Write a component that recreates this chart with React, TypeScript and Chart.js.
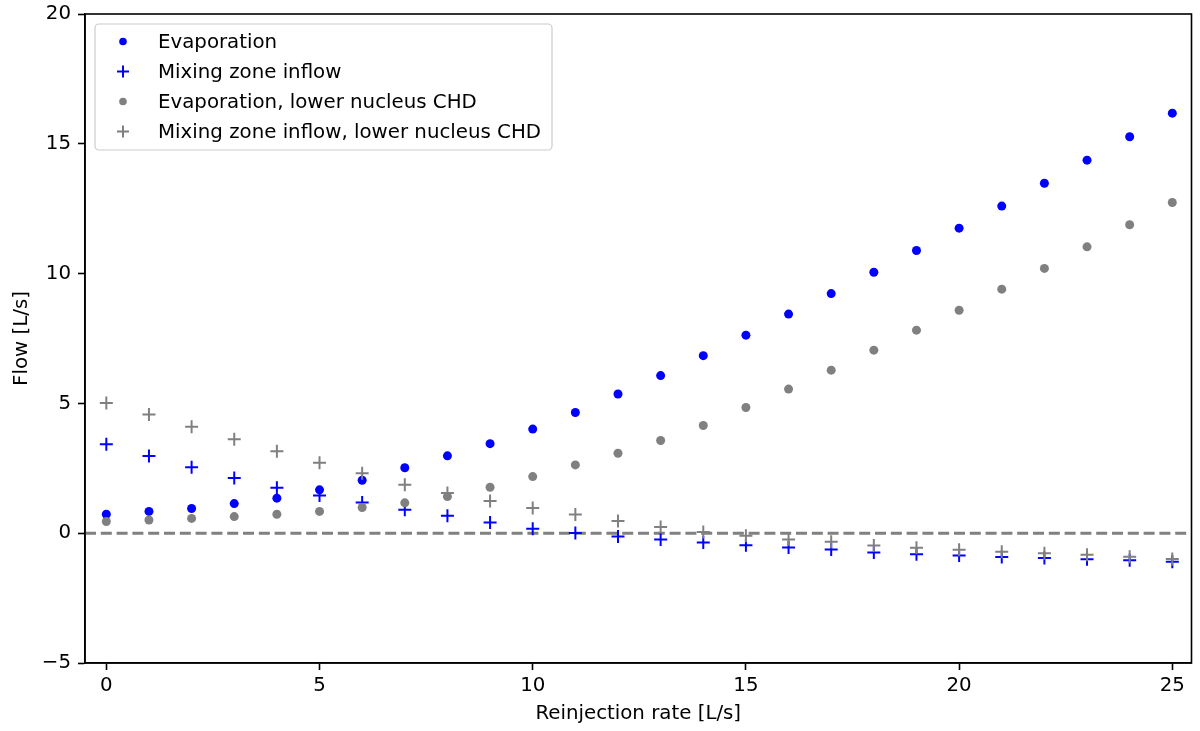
import React, { useEffect, useRef } from "react";
import { Chart, registerables } from "chart.js";

Chart.register(...registerables);

const rates = [0, 1, 2, 3, 4, 5, 6, 7, 8, 9, 10, 11, 12, 13, 14, 15, 16, 17, 18, 19, 20, 21, 22, 23, 24, 25];
const evaporation = [0.73, 0.84, 0.95, 1.14, 1.35, 1.67, 2.04, 2.52, 2.98, 3.45, 4.01, 4.65, 5.36, 6.07, 6.84, 7.63, 8.44, 9.23, 10.05, 10.89, 11.75, 12.6, 13.48, 14.37, 15.27, 16.18];
const mixingInflow = [3.43, 2.97, 2.54, 2.13, 1.75, 1.45, 1.18, 0.9, 0.67, 0.41, 0.17, 0.01, -0.13, -0.24, -0.36, -0.46, -0.55, -0.63, -0.74, -0.81, -0.86, -0.92, -0.96, -1.0, -1.04, -1.1];
const evaporationLower = [0.45, 0.51, 0.57, 0.64, 0.73, 0.84, 0.99, 1.17, 1.41, 1.77, 2.18, 2.63, 3.08, 3.57, 4.15, 4.84, 5.55, 6.28, 7.05, 7.82, 8.59, 9.4, 10.2, 11.03, 11.88, 12.74];
const mixingInflowLower = [5.02, 4.57, 4.1, 3.62, 3.16, 2.71, 2.31, 1.87, 1.55, 1.24, 0.97, 0.72, 0.47, 0.24, 0.05, -0.1, -0.24, -0.33, -0.47, -0.56, -0.64, -0.71, -0.77, -0.83, -0.91, -0.99];
const seriesLabels = [
  "Evaporation",
  "Mixing zone inflow",
  "Evaporation, lower nucleus CHD",
  "Mixing zone inflow, lower nucleus CHD",
];
const xTicks = [0, 5, 10, 15, 20, 25];
const yTicks = [-5, 0, 5, 10, 15, 20];
const referenceLevel = 0;

const BLUE = "#0000ff";
const GRAY = "#808080";
const FONT = "'DejaVu Sans', sans-serif";
const FS = 19.8;

const toPoints = (ys: number[]) => rates.map((x, i) => ({ x, y: ys[i] }));

const framePlugin = {
  id: "frameAndLegend",
  beforeDatasetsDraw(chart: any) {
    const { ctx, chartArea, scales } = chart;
    const y = scales.y.getPixelForValue(referenceLevel);
    ctx.save();
    ctx.strokeStyle = GRAY;
    ctx.lineWidth = 3;
    ctx.setLineDash([11, 4.8]);
    ctx.beginPath();
    ctx.moveTo(chartArea.left, y);
    ctx.lineTo(chartArea.right, y);
    ctx.stroke();
    ctx.restore();
  },
  afterDraw(chart: any) {
    const { ctx, chartArea } = chart;
    ctx.save();
    ctx.strokeStyle = "#000";
    ctx.lineWidth = 1.6;
    ctx.strokeRect(chartArea.left, chartArea.top, chartArea.right - chartArea.left, chartArea.bottom - chartArea.top);

    // legend
    const bx = chartArea.left + 10;
    const by = chartArea.top + 10;
    const bw = 457;
    const bh = 126;
    ctx.beginPath();
    ctx.roundRect(bx, by, bw, bh, 4);
    ctx.fillStyle = "rgba(255,255,255,0.8)";
    ctx.fill();
    ctx.strokeStyle = "#cccccc";
    ctx.lineWidth = 1.2;
    ctx.stroke();

    ctx.font = `${FS}px ${FONT}`;
    ctx.textBaseline = "middle";
    ctx.textAlign = "left";
    chart.data.datasets.forEach((ds: any, i: number) => {
      const cy = by + 17.5 + i * 30;
      const mx = bx + 28;
      if (ds.pointStyle === "circle") {
        ctx.beginPath();
        ctx.arc(mx, cy, 3.8, 0, Math.PI * 2);
        ctx.fillStyle = ds.backgroundColor;
        ctx.fill();
      } else {
        ctx.strokeStyle = ds.borderColor;
        ctx.lineWidth = 2;
        ctx.beginPath();
        ctx.moveTo(mx - 6, cy);
        ctx.lineTo(mx + 6, cy);
        ctx.moveTo(mx, cy - 6);
        ctx.lineTo(mx, cy + 6);
        ctx.stroke();
      }
      ctx.fillStyle = "#000";
      ctx.fillText(ds.label, bx + 63, cy + 1);
    });
    ctx.restore();
  },
};

export default function App() {
  const ref = useRef<HTMLCanvasElement | null>(null);

  useEffect(() => {
    if (!ref.current) return;
    const mk = (i: number, data: number[], color: string, style: string) => ({
      label: seriesLabels[i],
      data: toPoints(data),
      pointStyle: style,
      pointRadius: style === "circle" ? 4.5 : 6.5,
      pointHoverRadius: style === "circle" ? 4.5 : 6.5,
      backgroundColor: color,
      borderColor: color,
      borderWidth: style === "circle" ? 0 : 2,
      showLine: false,
      order: 3 - i,
    });
    const chart = new Chart(ref.current, {
      type: "scatter",
      data: {
        datasets: [
          mk(0, evaporation, BLUE, "circle"),
          mk(1, mixingInflow, BLUE, "cross"),
          mk(2, evaporationLower, GRAY, "circle"),
          mk(3, mixingInflowLower, GRAY, "cross"),
        ],
      },
      options: {
        animation: false,
        responsive: false,
        maintainAspectRatio: false,
        layout: { padding: { left: 0, top: 14, right: 6, bottom: 0 } },
        plugins: {
          legend: { display: false },
          tooltip: { enabled: false },
        },
        scales: {
          x: {
            type: "linear",
            min: -0.5,
            max: 25.45,
            afterBuildTicks: (s: any) => {
              s.ticks = xTicks.map((v) => ({ value: v }));
            },
            afterFit: (s: any) => {
              s.height = 68;
              s.paddingLeft = 0;
              s.paddingRight = 0;
              s.paddingTop = 0;
              s.paddingBottom = 0;
            },
            grid: {
              display: true,
              drawOnChartArea: false,
              drawTicks: true,
              tickLength: 7,
              tickColor: "#000",
              tickWidth: 1.6,
            },
            border: { display: true, color: "#000", width: 1.6 },
            ticks: {
              color: "#000",
              font: { family: FONT, size: FS },
              padding: 4,
              maxRotation: 0,
              callback: (v: any) => String(v).replace("-", "\u2212"),
            },
            title: {
              display: true,
              text: "Reinjection rate [L/s]",
              color: "#000",
              font: { family: FONT, size: FS },
              padding: { top: 0, bottom: 5 },
            },
          },
          y: {
            type: "linear",
            min: -5,
            max: 20,
            afterBuildTicks: (s: any) => {
              s.ticks = yTicks.map((v) => ({ value: v }));
            },
            afterFit: (s: any) => {
              s.width = 85;
              s.paddingLeft = 0;
              s.paddingRight = 0;
              s.paddingTop = 0;
              s.paddingBottom = 0;
            },
            grid: {
              display: true,
              drawOnChartArea: false,
              drawTicks: true,
              tickLength: 7,
              tickColor: "#000",
              tickWidth: 1.6,
            },
            border: { display: true, color: "#000", width: 1.6 },
            ticks: {
              color: "#000",
              font: { family: FONT, size: FS },
              padding: 7,
              callback: (v: any) => String(v).replace("-", "\u2212"),
            },
            title: {
              display: true,
              text: "Flow [L/s]",
              color: "#000",
              font: { family: FONT, size: FS },
              padding: { top: 10, bottom: 0 },
            },
          },
        },
      },
      plugins: [framePlugin],
    } as any);
    return () => chart.destroy();
  }, []);

  return (
    <div style={{ position: "fixed", left: 0, top: 0, width: 1200, height: 731, background: "#fff" }}>
      <canvas ref={ref} width={1200} height={731} style={{ width: 1200, height: 731, display: "block" }} />
    </div>
  );
}
